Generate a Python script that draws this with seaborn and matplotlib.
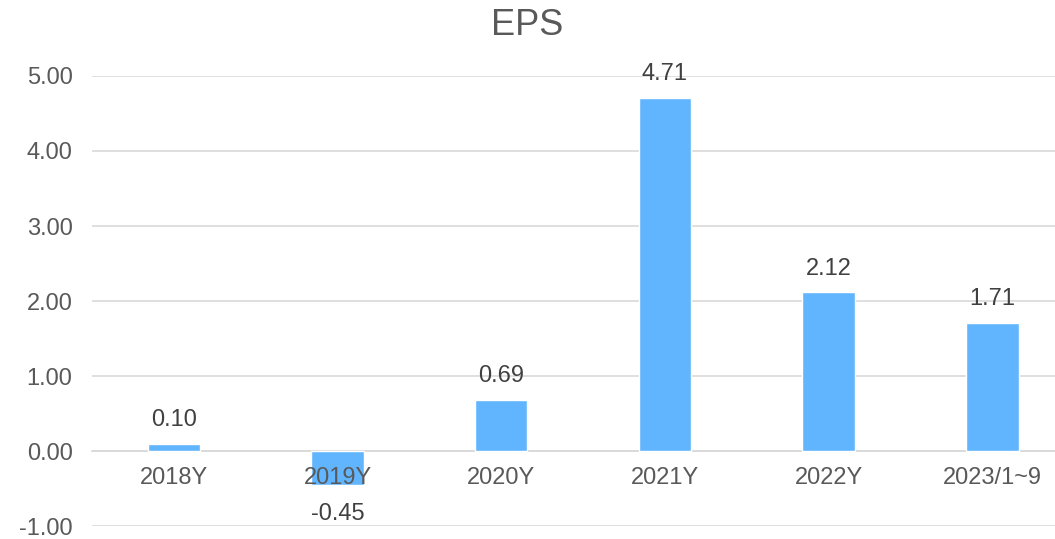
import seaborn as sns
import matplotlib.pyplot as plt
import pandas as pd

# EPS per period
periods = ['2018Y', '2019Y', '2020Y', '2021Y', '2022Y', '2023/1~9']
eps = [0.10, -0.45, 0.69, 4.71, 2.12, 1.71]

df = pd.DataFrame({'period': periods, 'eps': eps})

sns.set_style("white")
plt.rcParams['font.family'] = ['Liberation Sans', 'DejaVu Sans']

text_color = '#595959'
bar_color = '#61B5FF'

fig = plt.figure(figsize=(10.55, 5.39), dpi=100)
ax = fig.add_axes([0.0872, 0.0233, 0.931, 0.836])

sns.barplot(data=df, x='period', y='eps', color=bar_color, width=0.32,
            saturation=1, ax=ax, zorder=3)

ax.set_ylim(-1, 5)
ax.set_xlim(-0.5, len(periods) - 0.5)
ax.set_yticks(range(-1, 6))
ax.set_yticklabels([f'{v:.2f}' for v in range(-1, 6)])
ax.yaxis.grid(True, color='#D9D9D9', linewidth=1.2)
ax.set_axisbelow(True)
# category labels are drawn over the bars (as in the 2019Y case)
ax.xaxis.set_zorder(5)

for s in ['top', 'right', 'left']:
    ax.spines[s].set_visible(False)
# category labels sit right under the zero line
ax.spines['bottom'].set_position(('data', 0))
ax.spines['bottom'].set_color('#D9D9D9')
ax.spines['bottom'].set_linewidth(1.2)

ax.tick_params(axis='both', length=0, labelsize=17, colors=text_color)
ax.tick_params(axis='x', pad=11)
ax.tick_params(axis='y', pad=14)
ax.set_xlabel('')
ax.set_ylabel('')

# value labels
for i, v in enumerate(eps):
    if v >= 0:
        ax.annotate(f'{v:.2f}', (i, v), xytext=(0, 9), textcoords='offset points',
                    ha='center', va='bottom', fontsize=17, color='#404040')
    else:
        ax.annotate(f'{v:.2f}', (i, v), xytext=(0, -13), textcoords='offset points',
                    ha='center', va='top', fontsize=17, color='#404040')

fig.suptitle('EPS', fontsize=26, color=text_color, y=0.985)

plt.savefig('out.png', dpi=100)
